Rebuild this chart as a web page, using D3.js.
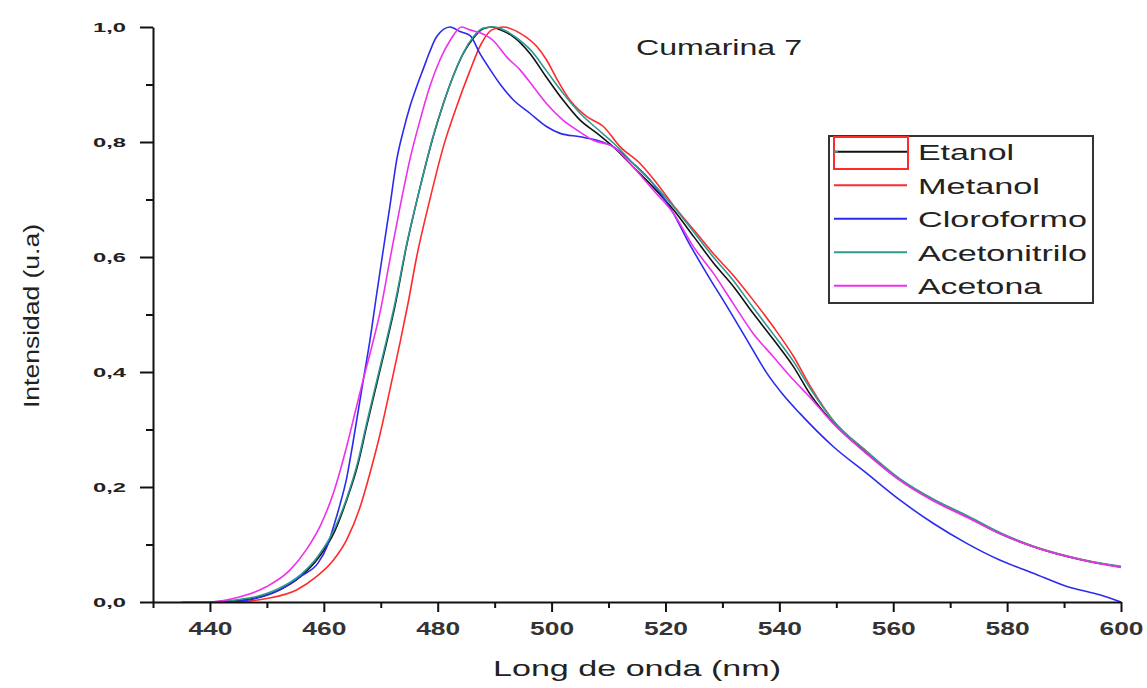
<!DOCTYPE html>
<html>
<head>
<meta charset="utf-8">
<script src="https://cdn.jsdelivr.net/npm/d3@7"></script>
<style>
body { margin: 0; background: #fff; }
svg { display: block; font-family: "Liberation Sans", Arial, sans-serif; }
</style>
</head>
<body>
<svg id="chart" width="1147" height="688"></svg>
<script>
// [longitud de onda (nm), intensidad normalizada]
const etanol = [[440,0],[444,0.002],[448,0.007],[452,0.02],[456,0.045],[459,0.076],[462,0.125],[464,0.177],[466,0.24],[467.5,0.305],[469.3,0.38],[471,0.45],[472.5,0.515],[474.5,0.618],[477,0.725],[479.2,0.809],[481,0.867],[482.7,0.914],[484.5,0.954],[486.2,0.98],[488,0.997],[489.5,1.0],[491,0.995],[493.3,0.983],[496.2,0.954],[499,0.914],[502,0.873],[505,0.838],[508,0.815],[511,0.79],[514.3,0.757],[517.8,0.722],[521.4,0.682],[525,0.635],[528.4,0.59],[532,0.548],[535.4,0.502],[539,0.456],[542.5,0.409],[545.5,0.36],[549.5,0.311],[555.3,0.259],[561.2,0.212],[567,0.177],[573,0.148],[578.7,0.119],[584.6,0.096],[590.5,0.079],[595,0.069],[600,0.061]]

const metanol = [[445,0],[450,0.006],[455.2,0.021],[458.7,0.044],[461.7,0.073],[464,0.108],[466.4,0.166],[468.1,0.224],[469.9,0.293],[471.6,0.369],[473.4,0.452],[474.8,0.52],[476.3,0.6],[478.6,0.699],[481,0.792],[483.3,0.861],[485.7,0.925],[487.6,0.97],[489.5,0.995],[491.5,1.0],[494.5,0.989],[497.4,0.966],[499.1,0.943],[501,0.908],[503.2,0.873],[506.2,0.844],[509.1,0.827],[512,0.792],[515.5,0.763],[518.5,0.728],[522,0.682],[525.5,0.641],[528.4,0.606],[532,0.567],[535.4,0.525],[538.9,0.479],[542.5,0.427],[545.5,0.374],[549.5,0.315],[555.3,0.262],[561.2,0.213],[567,0.178],[573,0.148],[578.7,0.12],[584.6,0.097],[590.5,0.08],[595,0.07],[600,0.061]]

const cloroformo = [[444,0],[448,0.006],[452,0.02],[456,0.045],[459,0.068],[460.5,0.095],[461.7,0.131],[462.8,0.168],[464,0.215],[465,0.27],[466,0.33],[467,0.39],[468.1,0.455],[469.2,0.53],[470.4,0.61],[471.6,0.688],[472.8,0.769],[474,0.821],[475.1,0.861],[476.3,0.896],[477.5,0.928],[478.6,0.957],[479.8,0.983],[482.2,1.0],[483.9,0.992],[485.7,0.985],[487.4,0.954],[489.2,0.926],[491,0.9],[493.3,0.873],[496.2,0.85],[499.1,0.827],[501.5,0.815],[505,0.809],[508,0.803],[510.8,0.792],[514.3,0.763],[517.8,0.728],[521.4,0.676],[523.7,0.632],[527.2,0.572],[530.8,0.514],[534.3,0.456],[537.8,0.398],[540.7,0.36],[543.6,0.328],[549.5,0.27],[555.3,0.224],[561.2,0.177],[567,0.137],[572.9,0.102],[578.7,0.073],[584.6,0.05],[590.5,0.027],[596.4,0.012],[600,0.0]]

const acetonitrilo = [[440,0],[444,0.003],[448,0.009],[452,0.023],[456,0.048],[459,0.08],[462,0.13],[464,0.18],[466,0.245],[467.5,0.31],[469.3,0.385],[471,0.455],[472.5,0.52],[474.5,0.62],[477,0.725],[479.2,0.81],[481,0.867],[482.7,0.914],[484.5,0.955],[486.2,0.982],[488,0.998],[490,1.0],[492,0.993],[494,0.98],[496.5,0.958],[499,0.925],[502,0.885],[505,0.85],[508,0.823],[511,0.797],[514.3,0.763],[517.8,0.728],[521.4,0.688],[525,0.643],[528.4,0.6],[532,0.558],[535.4,0.512],[539,0.465],[542.5,0.418],[545.5,0.37],[549.5,0.315],[555.3,0.262],[561.2,0.214],[567,0.179],[573,0.15],[578.7,0.121],[584.6,0.097],[590.5,0.08],[595,0.07],[600,0.062]]

const acetona = [[435,0],[440,0.0],[445.3,0.009],[450,0.027],[454,0.055],[457,0.092],[459.5,0.135],[461.7,0.19],[464,0.27],[465.5,0.33],[467,0.39],[468.5,0.447],[469.9,0.505],[471.6,0.595],[473.4,0.688],[475.1,0.769],[476.9,0.838],[478.6,0.896],[480.4,0.943],[482.2,0.977],[484.2,1.0],[485.7,0.995],[487.4,0.99],[489.7,0.977],[492.1,0.948],[494.5,0.925],[496.8,0.896],[499.1,0.867],[502,0.838],[504.4,0.821],[507.3,0.803],[510.8,0.792],[514.3,0.757],[517.8,0.717],[521.4,0.676],[524.9,0.618],[528.4,0.572],[531.9,0.519],[535.4,0.467],[538.9,0.427],[542.5,0.386],[545,0.36],[549.5,0.31],[555.3,0.258],[561.2,0.211],[567,0.176],[573,0.147],[578.7,0.119],[584.6,0.096],[590.5,0.079],[595,0.069],[600,0.06]]

const nombres = ["Etanol", "Metanol", "Cloroformo", "Acetonitrilo", "Acetona"]
const datosSeries = [etanol, metanol, cloroformo, acetonitrilo, acetona]
const colores = ["#111111", "#ff2a2a", "#2b2bf0", "#2f9a94", "#ee30ee"]

const xTicks = [440, 460, 480, 500, 520, 540, 560, 580, 600]
const xMinor = [430, 450, 470, 490, 510, 530, 550, 570, 590]
const yTicks = [0, 0.2, 0.4, 0.6, 0.8, 1.0]
const yMinor = [0.1, 0.3, 0.5, 0.7, 0.9]

const titulo = "Cumarina 7"
const tituloX = "Long de onda (nm)"
const tituloY = "Intensidad (u.a)"

const svg = d3.select("#chart")

const x = d3.scaleLinear().domain([430, 600]).range([153, 1121])
const y = d3.scaleLinear().domain([0, 1]).range([602, 27])

// curvas
const linea = d3.line()
    .x(d => x(d[0]))
    .y(d => y(d[1]))
    .curve(d3.curveMonotoneX)

svg.append("g")
    .selectAll("path")
    .data(datosSeries)
    .join("path")
    .attr("d", d => linea(d))
    .attr("fill", "none")
    .attr("stroke", (d, i) => colores[i])
    .attr("stroke-width", 1.6)
    .attr("stroke-linejoin", "round")

// ejes
const ejeX = svg.append("g")
    .attr("transform", `translate(0,${y(0)})`)
    .call(d3.axisBottom(x).tickValues(xTicks).tickSize(10).tickSizeOuter(0).tickPadding(10))

svg.append("g")
    .attr("transform", `translate(0,${y(0)})`)
    .call(d3.axisBottom(x).tickValues(xMinor).tickSize(6).tickFormat(""))
    .call(g => g.select(".domain").remove())

const ejeY = svg.append("g")
    .attr("transform", `translate(${x(430)},0)`)
    .call(d3.axisLeft(y).tickValues(yTicks).tickSize(13).tickSizeOuter(0).tickPadding(14)
        .tickFormat(d => d3.format(".1f")(d).replace(".", ",")))

svg.append("g")
    .attr("transform", `translate(${x(430)},0)`)
    .call(d3.axisLeft(y).tickValues(yMinor).tickSize(7).tickFormat(""))
    .call(g => g.select(".domain").remove())

svg.selectAll(".domain, .tick line")
    .attr("stroke", "#111")
    .attr("stroke-width", 2)

ejeX.selectAll(".tick text")
    .attr("font-size", 19)
    .attr("font-weight", "bold")
    .attr("fill", "#333")
    .attr("textLength", 44)
    .attr("lengthAdjust", "spacingAndGlyphs")

ejeY.selectAll(".tick text")
    .attr("font-size", 13)
    .attr("font-weight", "bold")
    .attr("fill", "#222")
    .attr("textLength", 33)
    .attr("lengthAdjust", "spacingAndGlyphs")

// titulos
svg.append("text")
    .attr("x", (x(430) + x(600)) / 2)
    .attr("y", 676)
    .attr("text-anchor", "middle")
    .attr("font-size", 22)
    .attr("fill", "#222")
    .attr("textLength", 288)
    .attr("lengthAdjust", "spacingAndGlyphs")
    .text(tituloX)

svg.append("text")
    .attr("transform", "translate(39,316) rotate(-90)")
    .attr("text-anchor", "middle")
    .attr("font-size", 22)
    .attr("fill", "#222")
    .attr("textLength", 184)
    .attr("lengthAdjust", "spacingAndGlyphs")
    .text(tituloY)

svg.append("text")
    .attr("x", 636)
    .attr("y", 55)
    .attr("font-size", 22)
    .attr("fill", "#222")
    .attr("textLength", 166)
    .attr("lengthAdjust", "spacingAndGlyphs")
    .text(titulo)

// leyenda
const anchos = [96, 122, 169, 169, 124]
const leyenda = svg.append("g")

leyenda.append("rect")
    .attr("x", 829)
    .attr("y", 136)
    .attr("width", 264)
    .attr("height", 167)
    .attr("fill", "#fff")
    .attr("stroke", "#333")
    .attr("stroke-width", 2)

const items = leyenda.selectAll("g.item")
    .data(nombres)
    .join("g")
    .attr("class", "item")
    .attr("transform", (d, i) => `translate(0,${160 + i * 33.5})`)

items.append("line")
    .attr("x1", 834)
    .attr("x2", 907)
    .attr("y1", -8.3)
    .attr("y2", -8.3)
    .attr("stroke", (d, i) => colores[i])
    .attr("stroke-width", 2)

items.append("text")
    .attr("x", 918)
    .attr("y", 0)
    .attr("font-size", 22)
    .attr("fill", "#222")
    .attr("textLength", (d, i) => anchos[i])
    .attr("lengthAdjust", "spacingAndGlyphs")
    .text(d => d)

// marco rojo de la muestra de Etanol
leyenda.append("rect")
    .attr("x", 834)
    .attr("y", 137)
    .attr("width", 74)
    .attr("height", 32)
    .attr("fill", "none")
    .attr("stroke", "#ff2a2a")
    .attr("stroke-width", 2)

leyenda.append("line")
    .attr("x1", 834)
    .attr("x2", 838)
    .attr("y1", 151.7)
    .attr("y2", 151.7)
    .attr("stroke", colores[3])
    .attr("stroke-width", 2)
</script>
</body>
</html>
